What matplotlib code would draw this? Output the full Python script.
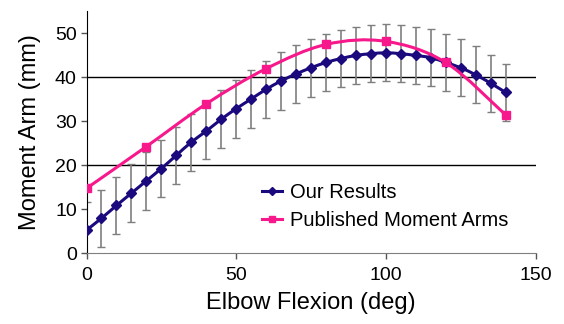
import numpy as np
import matplotlib
matplotlib.use("Agg")
import matplotlib.pyplot as plt
from matplotlib.path import Path
from matplotlib.patches import PathPatch
from matplotlib.lines import Line2D

plt.rcParams['font.family'] = ['Liberation Sans', 'DejaVu Sans']

# datos
flex_ours = [0, 5, 10, 15, 20, 25, 30, 35, 40, 45, 50, 55, 60, 65, 70,
             75, 80, 85, 90, 95, 100, 105, 110, 115, 120, 125, 130, 135, 140]
arm_ours = [5.2, 7.9, 10.8, 13.6, 16.4, 19.2, 22.2, 25.2, 27.7, 30.4, 32.8, 35.0, 37.2, 39.1, 40.7,
            42.1, 43.3, 44.2, 44.9, 45.3, 45.5, 45.3, 44.9, 44.4, 43.3, 42.1, 40.5, 38.6, 36.5]
err_ours = [6.5, 6.5, 6.4, 6.6, 6.6, 6.5, 6.5, 6.5, 6.4, 6.6, 6.6, 6.6, 6.5, 6.5, 6.6,
            6.6, 6.5, 6.5, 6.5, 6.5, 6.5, 6.5, 6.5, 6.5, 6.5, 6.5, 6.5, 6.5, 6.5]

flex_pub = [0, 20, 40, 60, 80, 100, 120, 140]
arm_pub = [14.7, 24.2, 33.9, 41.9, 47.4, 48.1, 43.3, 31.4]

yticks = [0, 10, 20, 30, 40, 50]
xticks = [0, 50, 100, 150]
grid_y = [20, 40]

BLUE = '#1a0a7e'
PINK = '#f7198b'


def smooth_path(x, y):
    # curva suavizada tipo Excel (bezier por los puntos)
    p = np.column_stack([x, y]).astype(float)
    ext = np.vstack([p[0], p, p[-1]])
    verts = [p[0]]
    codes = [Path.MOVETO]
    for i in range(len(p) - 1):
        c1 = ext[i + 1] + (ext[i + 2] - ext[i]) / 6.0
        c2 = ext[i + 2] - (ext[i + 3] - ext[i + 1]) / 6.0
        verts += [c1, c2, p[i + 1]]
        codes += [Path.CURVE4] * 3
    return Path(verts, codes)


fig = plt.figure(figsize=(5.64, 3.24), dpi=100)
ax = fig.add_axes([0.1534, 0.2191, 0.7961, 0.7469])

for g in grid_y:
    ax.axhline(g, color='black', lw=1.0, zorder=1)

# barras de error
eb = ax.errorbar(flex_ours, arm_ours, yerr=err_ours, fmt='none', ecolor='#7f7f7f',
                 elinewidth=1.2, capsize=3, capthick=1.0, zorder=2)
for cap in eb[1]:
    cap.set_color('#333333')

ax.add_patch(PathPatch(smooth_path(flex_ours, arm_ours), fill=False, edgecolor=BLUE, lw=2.2, zorder=3))
ax.plot(flex_ours, arm_ours, ls='none', marker='D', ms=5.5, color=BLUE, zorder=4)

ax.add_patch(PathPatch(smooth_path(flex_pub, arm_pub), fill=False, edgecolor=PINK, lw=2.2, zorder=5))
ax.plot(flex_pub, arm_pub, ls='none', marker='s', ms=6, color=PINK, zorder=6)

ax.set_xlim(0, 150)
ax.set_ylim(0, 55)
ax.set_xticks(xticks)
ax.set_yticks(yticks)
ax.tick_params(axis='both', labelsize=14, length=4, width=1, direction='out', color='#555555')
ax.tick_params(axis='y', pad=3)
ax.tick_params(axis='x', pad=6)
for s in ['top', 'right']:
    ax.spines[s].set_visible(False)
ax.spines['left'].set_color('black')
ax.spines['bottom'].set_color('#7f7f7f')
ax.set_xlabel('Elbow Flexion (deg)', fontsize=17, labelpad=6)
ax.set_ylabel('Moment Arm (mm)', fontsize=17, labelpad=10)

handles = [Line2D([], [], color=BLUE, lw=2.2, marker='D', ms=4),
           Line2D([], [], color=PINK, lw=2.2, marker='s', ms=4)]
fig.legend(handles, ['Our Results', 'Published Moment Arms'], loc='upper left',
           bbox_to_anchor=(0.4645, 0.436), frameon=False, fontsize=14.5, borderpad=0,
           borderaxespad=0, handlelength=1.0, handletextpad=0.4, labelspacing=0.45)

fig.savefig('out.png', dpi=100)
